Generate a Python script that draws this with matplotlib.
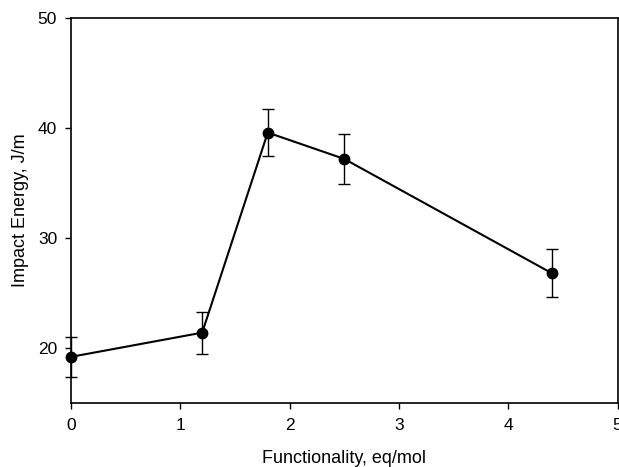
import matplotlib
matplotlib.use("Agg")
import matplotlib.pyplot as plt

plt.rcParams['font.family'] = ['Liberation Sans', 'DejaVu Sans']

functionality = [0.0, 1.2, 1.8, 2.5, 4.4]
impact_energy = [19.2, 21.4, 39.6, 37.2, 26.8]
impact_error = [1.8, 1.9, 2.1, 2.3, 2.2]

X_TICKS = [0, 1, 2, 3, 4, 5]
Y_TICKS = [20, 30, 40, 50]

fig = plt.figure(figsize=(6.19, 4.67), dpi=100)
ax = fig.add_axes([0.1147, 0.137, 0.883, 0.824])

ax.errorbar(functionality, impact_energy, yerr=impact_error, color='black',
            marker='o', markersize=7.5, linewidth=1.5, elinewidth=1.0,
            capsize=4, capthick=1.0, clip_on=False, zorder=3)

ax.set_xlim(0, 5)
ax.set_ylim(15, 50)
ax.set_xticks(X_TICKS)
ax.set_yticks(Y_TICKS)
ax.tick_params(direction='out', length=4, width=1, labelsize=12.5)
ax.tick_params(axis='x', pad=7)
ax.tick_params(axis='y', pad=6)
for spine in ax.spines.values():
    spine.set_linewidth(1.2)

ax.set_xlabel("Functionality, eq/mol", fontsize=13, labelpad=12)
ax.set_ylabel("Impact Energy, J/m", fontsize=13, labelpad=6)

fig.savefig("out.png", dpi=100)
